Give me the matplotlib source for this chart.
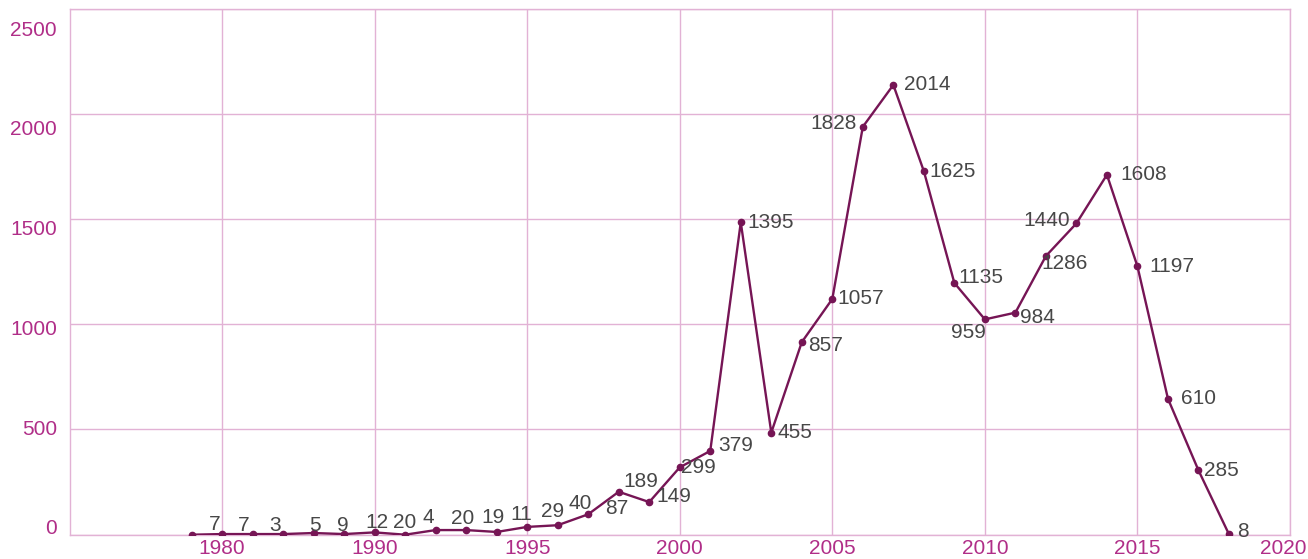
import matplotlib
matplotlib.use("Agg")
import matplotlib.pyplot as plt
from matplotlib.transforms import ScaledTranslation

# ── data ──────────────────────────────────────────────
years = list(range(1984, 2019))
# heights of the points as drawn in the picture
counts = [0, 3, 3, 3, 8, 3, 11, 0, 22, 22, 13, 37, 45, 97, 204, 155, 320, 398,
          1484, 485, 915, 1120, 1938, 2137, 1727, 1196, 1023, 1055, 1324, 1479,
          1710, 1275, 646, 306, 2]
# the numbers written next to each point
count_labels = ["7", "7", "3", "5", "9", "12", "20", "4", "20", "19", "11", "29",
                "40", "87", "189", "149", "299", "379", "1395", "455", "857",
                "1057", "1828", "2014", "1625", "1135", "959", "984", "1286",
                "1440", "1608", "1197", "610", "285", "8"]
x_ticks = [1985, 1990, 1995, 2000, 2005, 2010, 2015, 2020]
x_tick_labels = ["1980", "1990", "1995", "2000", "2005", "2010", "2015", "2020"]
y_ticks = [0, 500, 1000, 1500, 2000, 2500]

# label placement next to each point (pixels, dx right / dy up)
label_offsets = [(23, 10), (22, 9), (22, 9), (32, 9), (29, 8), (33, 12), (30, 10),
                 (23, 17), (27, 12), (27, 13), (25, 17), (25, 15), (22, 22), (29, 6),
                 (22, 10), (25, 6), (19, 0), (25, 5), (30, 0), (24, 0), (24, -3),
                 (28, 0), (-29, 3), (34, 0), (29, 0), (27, 5), (-16, -13), (22, -5),
                 (19, -7), (-30, 3), (37, 0), (34, 0), (31, 0), (23, 0), (14, 3)]

GRID = "#e2b2d5"
TICK = "#b02e88"
LINE = "#761555"
TEXT = "#474747"

plt.rcParams['font.family'] = ['Liberation Sans', 'DejaVu Sans']

fig = plt.figure(figsize=(13.08, 5.59), dpi=100)
ax = fig.add_axes([69.5 / 1308, 24.3 / 559, (1290 - 69.5) / 1308, (534.7 - 8.5) / 559])

ax.plot(years, counts, color=LINE, lw=1.7, marker="o", ms=4.5, zorder=3)

for yr, c, lbl, (dx, dy) in zip(years, counts, count_labels, label_offsets):
    ax.annotate(lbl, (yr, c), xytext=(dx, dy), textcoords="offset pixels",
                ha="center", va="center", fontsize=15, color=TEXT, zorder=4)

ax.set_xlim(1980, 2020)
ax.set_ylim(0, 2500)
ax.set_xticks(x_ticks)
ax.set_xticklabels(x_tick_labels)
ax.set_yticks(y_ticks)
ax.set_yticklabels([str(v) for v in y_ticks])

ax.grid(True, color=GRID, lw=1.0)
ax.set_axisbelow(True)
for sp in ax.spines.values():
    sp.set_color(GRID)
    sp.set_linewidth(1.0)

ax.tick_params(length=0, colors=TICK, labelsize=15)
ax.tick_params(axis="x", pad=3)
ax.tick_params(axis="y", pad=9)

# y labels drift a little downwards towards the top in the reference
for v, t in zip(y_ticks, ax.get_yticklabels()):
    dy = (-7.7 + 27.2 * v / 2500) / 100.0
    t.set_transform(t.get_transform() + ScaledTranslation(0, -dy, fig.dpi_scale_trans))
last = ax.get_xticklabels()[-1]
last.set_transform(last.get_transform() + ScaledTranslation(-0.07, 0, fig.dpi_scale_trans))

fig.savefig("out.png", dpi=100)
